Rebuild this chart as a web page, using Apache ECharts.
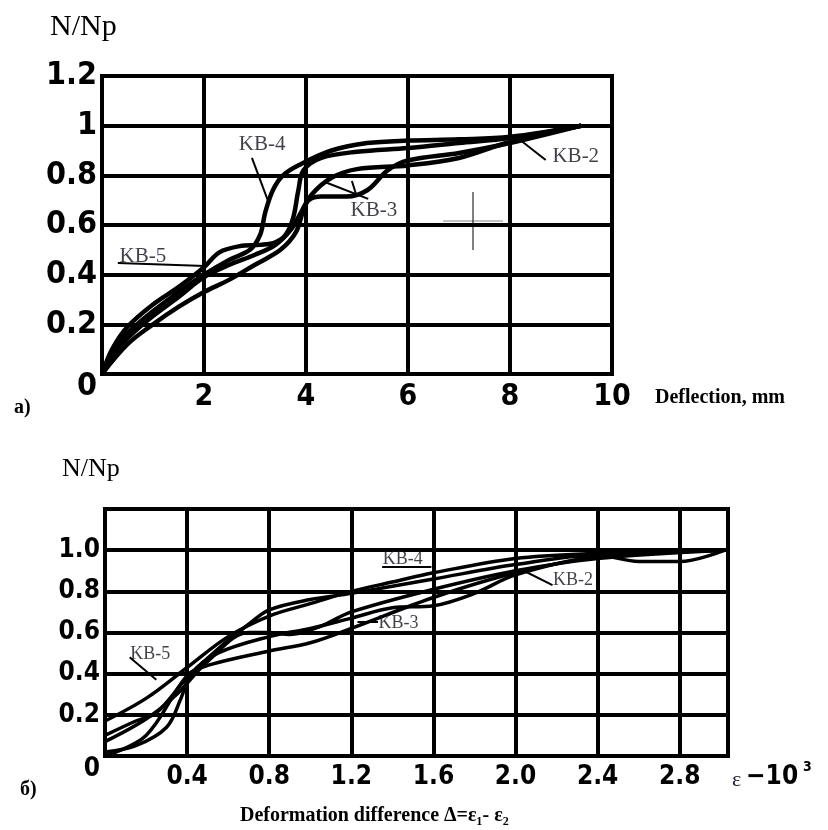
<!DOCTYPE html>
<html>
<head>
<meta charset="utf-8">
<script src="https://cdn.jsdelivr.net/npm/echarts@6/dist/echarts.min.js"></script>
<style>
  html, body { margin: 0; padding: 0; background: #fff; }
  #chart { width: 828px; height: 830px; }
</style>
</head>
<body>
<div id="chart"></div>
<script>
// а) N/Np vs deflection, mm
const deflKB2 = [[0, 0], [0.5, 0.12], [1, 0.2], [1.5, 0.27], [2, 0.33], [2.5, 0.38], [3, 0.44], [3.5, 0.5], [3.8, 0.57], [3.95, 0.66], [4.1, 0.72], [4.5, 0.79], [5, 0.825], [6, 0.84], [7, 0.87], [8, 0.935], [9.4, 1.0]];
const deflKB3 = [[0, 0], [0.3, 0.1], [0.8, 0.2], [1.5, 0.31], [2, 0.39], [2.5, 0.44], [3, 0.48], [3.4, 0.52], [3.7, 0.58], [3.9, 0.65], [4.05, 0.7], [4.3, 0.715], [4.8, 0.715], [5.2, 0.74], [5.6, 0.82], [6, 0.86], [7, 0.89], [8, 0.93], [9.4, 1.0]];
const deflKB4 = [[0, 0], [0.3, 0.12], [0.8, 0.22], [1.5, 0.33], [2, 0.4], [2.5, 0.46], [2.9, 0.5], [3.1, 0.56], [3.2, 0.65], [3.35, 0.74], [3.55, 0.8], [3.9, 0.845], [4.5, 0.9], [5.2, 0.93], [6, 0.94], [7, 0.945], [8, 0.955], [9.4, 1.0]];
const deflKB5 = [[0, 0], [0.2, 0.1], [0.5, 0.19], [1, 0.28], [1.5, 0.35], [2, 0.43], [2.3, 0.49], [2.7, 0.515], [3.1, 0.52], [3.4, 0.53], [3.6, 0.56], [3.75, 0.63], [3.85, 0.74], [3.95, 0.82], [4.3, 0.87], [5, 0.895], [6, 0.91], [7, 0.93], [8, 0.95], [9.4, 1.0]];
const deflTicksX = [2, 4, 6, 8, 10];

// б) N/Np vs deformation difference
const defKB1 = [[0, 0.1], [0.15, 0.17], [0.25, 0.21], [0.4, 0.38], [0.55, 0.52], [0.7, 0.64], [0.8, 0.71], [1.0, 0.76], [1.2, 0.79], [1.6, 0.86], [2.0, 0.93], [2.4, 0.975], [2.6, 0.945], [2.8, 0.945], [3.02, 1.0]];
const defKB2 = [[0, 0.07], [0.2, 0.18], [0.35, 0.3], [0.5, 0.46], [0.7, 0.6], [0.8, 0.6], [0.9, 0.59], [1.05, 0.63], [1.2, 0.7], [1.6, 0.81], [2.0, 0.9], [2.4, 0.96], [3.02, 1.0]];
const defKB3 = [[0, 0.02], [0.15, 0.05], [0.3, 0.14], [0.37, 0.28], [0.42, 0.4], [0.55, 0.5], [0.8, 0.58], [1.0, 0.62], [1.2, 0.67], [1.4, 0.72], [1.6, 0.73], [1.8, 0.79], [2.0, 0.88], [2.4, 0.97], [3.02, 1.0]];
const defKB4 = [[0, 0.17], [0.2, 0.28], [0.4, 0.43], [0.6, 0.58], [0.8, 0.68], [1.0, 0.74], [1.2, 0.8], [1.4, 0.845], [1.6, 0.89], [2.0, 0.96], [2.4, 0.985], [2.8, 0.995], [3.02, 1.0]];
const defKB5 = [[0, 0], [0.2, 0.1], [0.4, 0.39], [0.5, 0.44], [0.8, 0.51], [1.0, 0.55], [1.2, 0.62], [1.6, 0.77], [2.0, 0.89], [2.4, 0.965], [3.02, 1.0]];

// curve labels and their leader lines, in data units
const deflLabels = [
  { name: "KB-4", value: [3.14, 0.926] },
  { name: "KB-5", value: [0.8, 0.475] },
  { name: "KB-3", value: [5.33, 0.66] },
  { name: "KB-2", value: [9.29, 0.874] }
];
const deflLeaders = [
  [[2.94, 0.87], [3.25, 0.7]],
  [[0.31, 0.447], [2.02, 0.435]],
  [[5.22, 0.705], [4.37, 0.773]],
  [[4.98, 0.725], [4.9, 0.777]],
  [[8.7, 0.862], [8.2, 0.942]]
];
const defLabels = [
  { name: "KB-4", value: [1.45, 0.955] },
  { name: "KB-3", value: [1.43, 0.645] },
  { name: "KB-2", value: [2.28, 0.855] },
  { name: "KB-5", value: [0.22, 0.495] }
];
const defLeaders = [
  [[1.35, 0.92], [1.59, 0.92]],
  [[1.23, 0.65], [1.33, 0.65]],
  [[2.18, 0.83], [2.04, 0.9]],
  [[0.12, 0.48], [0.25, 0.37]]
];

const TICKFONT = "DejaVu Sans Condensed";
const SERIF = "Liberation Serif";

const chart = echarts.init(document.getElementById("chart"), null, { renderer: "canvas" });

const gridLine = { show: true, lineStyle: { color: "#000", width: 4 } };

const curve = (name, data, idx, w) => ({
  name,
  type: "line",
  xAxisIndex: idx,
  yAxisIndex: idx,
  data,
  smooth: 0.35,
  symbol: "none",
  lineStyle: { color: "#000", width: w },
  z: 3
});

const labelSeries = (data, leaders, idx, size) => ({
  type: "scatter",
  xAxisIndex: idx,
  yAxisIndex: idx,
  data,
  symbolSize: 0,
  silent: true,
  label: {
    show: true,
    position: "inside",
    formatter: "{b}",
    fontFamily: SERIF,
    fontSize: size,
    color: "#10101c"
  },
  markLine: {
    silent: true,
    symbol: "none",
    label: { show: false },
    lineStyle: { color: "#000", width: 2, type: "solid" },
    data: leaders.map((l) => [{ coord: l[0] }, { coord: l[1] }])
  },
  z: 5
});

const zeroRich = (size) => ({ z: { fontFamily: TICKFONT, fontWeight: "bold", fontSize: size, color: "#000", padding: [26, 0, 0, 0] } });

const option = {
  animation: false,
  backgroundColor: "#fff",
  grid: [
    { left: 102, top: 76, width: 510, height: 298, show: true, borderColor: "#000", borderWidth: 4, backgroundColor: "transparent" },
    { left: 105, top: 509, width: 623, height: 247, show: true, borderColor: "#000", borderWidth: 4, backgroundColor: "transparent" }
  ],
  xAxis: [
    {
      type: "value", gridIndex: 0, min: 0, max: 10, interval: 2,
      axisLine: { show: false }, axisTick: { show: false }, splitLine: gridLine,
      axisLabel: {
        margin: 8, fontFamily: TICKFONT, fontWeight: "bold", fontSize: 30, color: "#000",
        formatter: (v) => (deflTicksX.includes(v) ? String(v) : "")
      }
    },
    {
      type: "value", gridIndex: 1, min: 0, max: 3.035, interval: 0.4,
      axisLine: { show: false }, axisTick: { show: false }, splitLine: gridLine,
      axisLabel: {
        margin: 8, fontFamily: TICKFONT, fontWeight: "bold", fontSize: 26, color: "#000",
        showMaxLabel: false,
        formatter: (v) => (v === 0 || v > 3 ? "" : v.toFixed(1))
      }
    }
  ],
  yAxis: [
    {
      type: "value", gridIndex: 0, min: 0, max: 1.2, interval: 0.2,
      axisLine: { show: false }, axisTick: { show: false }, splitLine: gridLine,
      axisLabel: {
        margin: 5, fontFamily: TICKFONT, fontWeight: "bold", fontSize: 32, color: "#000",
        formatter: (v) => (v === 0 ? "{z|0}" : String(+v.toFixed(1))),
        rich: zeroRich(32)
      }
    },
    {
      type: "value", gridIndex: 1, min: 0, max: 1.2, interval: 0.2,
      axisLine: { show: false }, axisTick: { show: false }, splitLine: gridLine,
      axisLabel: {
        margin: 5, fontFamily: TICKFONT, fontWeight: "bold", fontSize: 26, color: "#000",
        showMaxLabel: false,
        formatter: (v) => (v === 0 ? "{z|0}" : v > 1.1 ? "" : v.toFixed(1)),
        rich: zeroRich(26)
      }
    }
  ],
  series: [
    curve("KB-2", deflKB2, 0, 4.5),
    curve("KB-3", deflKB3, 0, 4.5),
    curve("KB-4", deflKB4, 0, 4.5),
    curve("KB-5", deflKB5, 0, 4.5),
    labelSeries(deflLabels, deflLeaders, 0, 21),
    curve("KB-1", defKB1, 1, 3.5),
    curve("KB-2", defKB2, 1, 3.5),
    curve("KB-3", defKB3, 1, 3.5),
    curve("KB-4", defKB4, 1, 3.5),
    curve("KB-5", defKB5, 1, 3.5),
    labelSeries(defLabels, defLeaders, 1, 18)
  ],
  graphic: [
    { type: "text", left: 50, top: 12, style: { text: "N/Np", font: "30px 'Liberation Serif'", fill: "#000" } },
    { type: "text", left: 14, top: 398, style: { text: "а)", font: "bold 20px 'Liberation Serif'", fill: "#000" } },
    { type: "text", left: 655, top: 388, style: { text: "Deflection, mm", font: "bold 20px 'Liberation Serif'", fill: "#000" } },
    { type: "text", left: 62, top: 456, style: { text: "N/Np", font: "26px 'Liberation Serif'", fill: "#000" } },
    { type: "text", left: 20, top: 780, style: { text: "б)", font: "bold 20px 'Liberation Serif'", fill: "#000" } },
    { type: "text", left: 732, top: 769, style: { text: "ε", font: "22px 'Liberation Serif'", fill: "#1a1a2a" } },
    { type: "text", left: 746, top: 764, style: { text: "−10", font: "bold 26px 'DejaVu Sans Condensed'", fill: "#000" } },
    { type: "text", left: 803, top: 760, style: { text: "3", font: "bold 14px 'DejaVu Sans Condensed'", fill: "#000" } },
    { type: "text", left: 240, top: 806, style: { text: "Deformation difference Δ=ε₁- ε₂", font: "bold 20px 'Liberation Serif'", fill: "#000" } },
    // cursor crosshair left on the scan
    { type: "line", shape: { x1: 443, y1: 221, x2: 503, y2: 221 }, style: { stroke: "#888", lineWidth: 1 } },
    { type: "line", shape: { x1: 473, y1: 192, x2: 473, y2: 250 }, style: { stroke: "#000", lineWidth: 1 } }
  ]
};

chart.setOption(option);
</script>
</body>
</html>
